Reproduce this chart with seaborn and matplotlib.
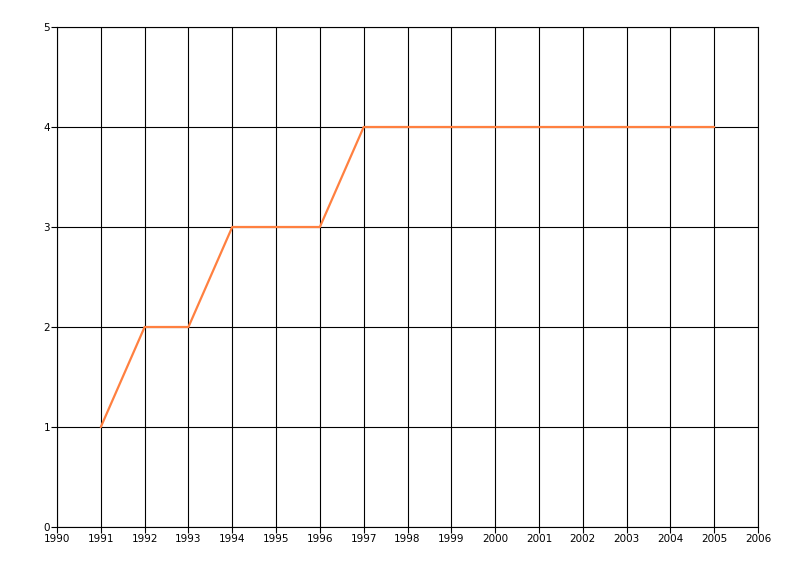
import matplotlib
matplotlib.use("Agg")
import matplotlib.pyplot as plt
import seaborn as sns
import pandas as pd

years = [1991, 1992, 1993, 1994, 1995, 1996, 1997, 1998, 1999, 2000, 2001, 2002, 2003, 2004, 2005]
values = [1, 2, 2, 3, 3, 3, 4, 4, 4, 4, 4, 4, 4, 4, 4]
x_ticks = list(range(1990, 2007))
y_ticks = [0, 1, 2, 3, 4, 5]

sns.set_style("white")
plt.rcParams['font.family'] = ['DejaVu Sans']

df = pd.DataFrame({"year": years, "value": values})

fig = plt.figure(figsize=(8, 5.76), dpi=100)
ax = fig.add_axes([57/800, 1 - 527/576, (758 - 57)/800, (527 - 27)/576])

sns.lineplot(data=df, x="year", y="value", ax=ax, color="#FF8040", linewidth=1.6, zorder=3)

ax.set_xlim(1990, 2006)
ax.set_ylim(0, 5)
ax.set_xticks(x_ticks)
ax.set_xticklabels([str(t) for t in x_ticks])
ax.set_yticks(y_ticks)
ax.set_yticklabels([str(t) for t in y_ticks])
ax.grid(True, color="black", linewidth=0.8)
ax.set_axisbelow(True)
ax.set_xlabel("")
ax.set_ylabel("")
for s in ax.spines.values():
    s.set_color("black")
    s.set_linewidth(0.8)
ax.tick_params(axis="both", which="both", direction="out", length=4, width=0.8,
               color="black", labelcolor="black", labelsize=7.5, pad=1,
               bottom=True, left=True)

fig.savefig("out.png", dpi=100)
